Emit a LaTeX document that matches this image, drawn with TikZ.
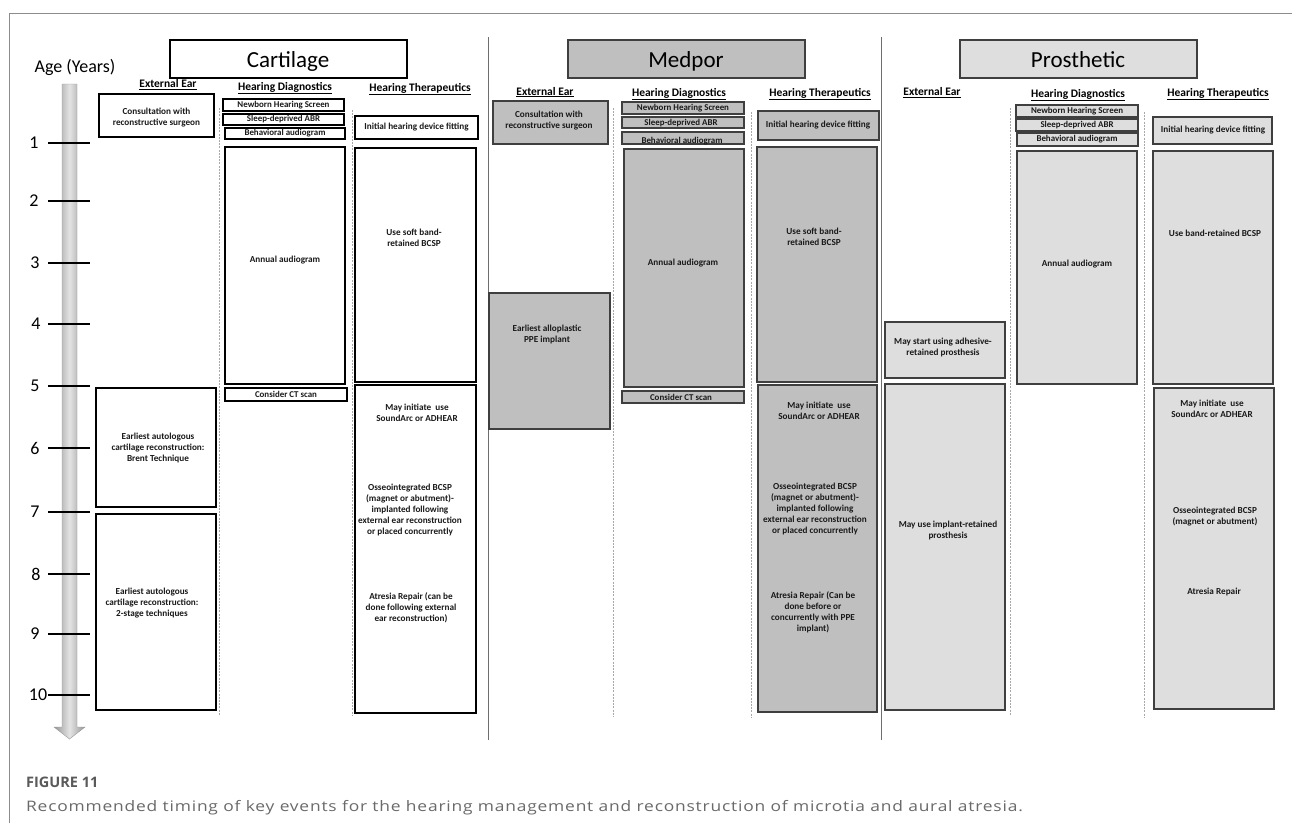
\documentclass[tikz,border=0pt]{standalone}
\usepackage{fontspec}
\setmainfont{Carlito}
\newfontfamily\capfont[FakeStretch=1.2,LetterSpace=5.5]{Open Sans}
\newfontfamily\capnofont{Open Sans}
\usetikzlibrary{fit}
\definecolor{medfill}{HTML}{BFBFBF}
\definecolor{prosfill}{HTML}{DEDEDE}
\definecolor{edgegray}{HTML}{3F3F3F}
\definecolor{framegray}{HTML}{8C8C8C}
\definecolor{sepgray}{HTML}{6E6E6E}
\definecolor{dashgray}{HTML}{A8A8A8}
\definecolor{capgray}{HTML}{5A5A5A}
\definecolor{capgrayl}{HTML}{6A6A6A}
\definecolor{shaftdark}{HTML}{959595}
\definecolor{shaftlight}{HTML}{E4E4E4}
\tikzset{
  cbox/.style={draw=black, fill=white, line width=1.2pt, inner sep=0pt, outer sep=0pt},
  mbox/.style={draw=edgegray, fill=medfill, line width=1.2pt, inner sep=0pt, outer sep=0pt},
  pbox/.style={draw=edgegray, fill=prosfill, line width=1.2pt, inner sep=0pt, outer sep=0pt},
  lbl/.style={font=\fontsize{9.2}{11}\selectfont\bfseries, align=center, inner sep=0pt, text=black!90},
  slbl/.style={font=\fontsize{8.9}{11}\selectfont\bfseries, align=center, inner sep=0pt, text=black!90},
  colhead/.style={font=\fontsize{11.5}{13}\selectfont\bfseries, inner sep=0pt, anchor=base},
  titletext/.style={font=\fontsize{23}{26}\selectfont, inner sep=0pt, anchor=base},
  agelbl/.style={font=\fontsize{18}{20}\selectfont, inner sep=0pt},
  panelsep/.style={draw=sepgray, line width=0.9pt},
  dsep/.style={draw=dashgray, line width=0.7pt, dash pattern=on 2pt off 1.2pt},
  ticktrace/.style={line width=2.4pt, draw=black},
}
\begin{document}
\begin{tikzpicture}[x=1pt,y=-1pt]
\useasboundingbox (0,0) rectangle (1292,823);
\fill[white] (0,0) rectangle (1292,823);
% frame
\draw[framegray, line width=1pt] (9,823) -- (9,13) -- (1292,13);
% panel separators
\draw[panelsep] (488,37) -- (488,740);
\draw[panelsep] (881,37) -- (881,740);
% dashed column separators
\draw[dsep] (219,108) -- (219,715);
\draw[dsep] (352,110) -- (352,715);
\draw[dsep] (613,108) -- (613,717);
\draw[dsep] (751,112) -- (751,718);
\draw[dsep] (1010,108) -- (1010,715);
\draw[dsep] (1144,112) -- (1144,718);

% age axis
\node[font=\fontsize{18}{20}\selectfont, inner sep=0pt] (agetitle) at (75,67) {Age (Years)};
\shade[left color=shaftdark, right color=shaftdark, middle color=shaftlight, draw=gray!80]
  (62,84) -- (77,84) -- (77,727) -- (85,727) -- (69.5,739) -- (54,727) -- (62,727) -- cycle;
\foreach \v/\yy/\xx in {1/143/34,2/201/34,3/263/35,4/324/36,5/386/35,6/448/35,7/512/35,8/574/36,9/634/35,10/695/38}{
  \draw[ticktrace] (48,\yy) -- (90,\yy);
  \node[agelbl] (age\v) at (\xx,\yy) {\v};
}

% ===== Cartilage =====
\node[cbox, fit={(170,40)(407,78)}] (cartT) {};
\node[titletext] (cartL) at (288,67) {Cartilage};
\node[colhead] (cEEh) at (168,87.5) {\underline{External Ear}};
\node[colhead] (cHDh) at (285,90) {\underline{Hearing Diagnostics}};
\node[colhead] (cHTh) at (420,91) {\underline{Hearing Therapeutics}};

\node[cbox, fit={(99,94)(214,137)}] (cConsB) {};
\node[lbl] (cConsL) at (156.5,118) {Consultation with\\reconstructive surgeon};
\node[cbox, fit={(96,388)(216,507)}] (cBrentB) {};
\node[lbl] (cBrentL) at (158,448) {Earliest autologous\\cartilage reconstruction:\\Brent Technique};
\node[cbox, fit={(96,514)(216,710)}] (cTwoB) {};
\node[lbl] (cTwoL) at (152,603) {Earliest autologous\\cartilage reconstruction:\\2-stage techniques};

\node[cbox, fit={(223,99)(344,111)}] (cNewB) {};
\node[slbl] (cNewL) at (283.5,105) {Newborn Hearing Screen};
\node[cbox, fit={(223,114)(344,125)}] (cSleepB) {};
\node[slbl] (cSleepL) at (283.5,119.5) {Sleep-deprived ABR};
\node[cbox, fit={(225,128)(345,139)}] (cBehB) {};
\node[slbl] (cBehL) at (285,133.5) {Behavioral audiogram};
\node[cbox, fit={(225,147)(345,384)}] (cAnnB) {};
\node[lbl] (cAnnL) at (285,260) {Annual audiogram};
\node[cbox, fit={(225,388)(347,401)}] (cCTB) {};
\node[slbl] (cCTL) at (286,394.5) {Consider CT scan};

\node[cbox, fit={(355,116)(478,139)}] (cInitB) {};
\node[lbl] (cInitL) at (416.5,127.5) {Initial hearing device fitting};
\node[cbox, fit={(355,148)(476,382)}] (cSoftB) {};
\node[lbl] (cSoftL) at (414,237.5) {Use soft band-\\retained BCSP};
\node[cbox, fit={(355,385)(476,713)}] (cBigB) {};
\node[lbl] (cSoundL) at (417,412.5) {May initiate\ \ use\\SoundArc or ADHEAR};
\node[lbl] (cOsseoL) at (410,510) {Osseointegrated BCSP\\(magnet or abutment)-\\implanted following\\external ear reconstruction\\or placed concurrently};
\node[lbl] (cAtrL) at (411,608) {Atresia Repair (can be\\done following external\\ear reconstruction)};

% ===== Medpor =====
\node[mbox, fit={(568,40)(805,78)}] (medT) {};
\node[titletext] (medL) at (686,67) {Medpor};
\node[colhead] (mEEh) at (545,95) {\underline{External Ear}};
\node[colhead] (mHDh) at (679,96) {\underline{Hearing Diagnostics}};
\node[colhead] (mHTh) at (820,96) {\underline{Hearing Therapeutics}};

\node[mbox, fit={(493,101)(608,144)}] (mConsB) {};
\node[lbl] (mConsL) at (549,121) {Consultation with\\reconstructive surgeon};
\node[mbox, fit={(489,293)(610,429)}] (mPPEB) {};
\node[lbl] (mPPEL) at (547,334.5) {Earliest alloplastic\\PPE implant};

\node[mbox, fit={(622,102)(744,114)}] (mNewB) {};
\node[slbl] (mNewL) at (683,108) {Newborn Hearing Screen};
\node[mbox, fit={(622,117)(744,128)}] (mSleepB) {};
\node[slbl] (mSleepL) at (681,123) {Sleep-deprived ABR};
\node[mbox, fit={(622,132)(744,144)}] (mBehB) {};
\node[slbl] (mBehL) at (682,141) {Behavioral audiogram};
\node[mbox, fit={(624,149)(744,387)}] (mAnnB) {};
\node[lbl] (mAnnL) at (683,263) {Annual audiogram};
\node[mbox, fit={(622,391)(744,403)}] (mCTB) {};
\node[slbl] (mCTL) at (681,397) {Consider CT scan};

\node[mbox, fit={(758,111)(879,140)}] (mInitB) {};
\node[lbl] (mInitL) at (818,125) {Initial hearing device fitting};
\node[mbox, fit={(757,147)(877,382)}] (mSoftB) {};
\node[lbl] (mSoftL) at (814,236.5) {Use soft band-\\retained BCSP};
\node[mbox, fit={(758,385)(877,712)}] (mBigB) {};
\node[lbl] (mSoundL) at (819,410.5) {May initiate\ \ use\\SoundArc or ADHEAR};
\node[lbl] (mOsseoL) at (815,509) {Osseointegrated BCSP\\(magnet or abutment)-\\implanted following\\external ear reconstruction\\or placed concurrently};
\node[lbl] (mAtrL) at (813,612.5) {Atresia Repair (Can be\\done before or\\concurrently with PPE\\implant)};

% ===== Prosthetic =====
\node[pbox, fit={(960,40)(1197,78)}] (proT) {};
\node[titletext] (proL) at (1078,67) {Prosthetic};
\node[colhead] (pEEh) at (932,95.5) {\underline{External Ear}};
\node[colhead] (pHDh) at (1078,97) {\underline{Hearing Diagnostics}};
\node[colhead] (pHTh) at (1218,96) {\underline{Hearing Therapeutics}};

\node[pbox, fit={(885,322)(1005,378)}] (pAdhB) {};
\node[lbl] (pAdhL) at (943,347.5) {May start using adhesive-\\retained prosthesis};
\node[pbox, fit={(885,384)(1005,710)}] (pImpB) {};
\node[lbl] (pImpL) at (948,530.5) {May use implant-retained\\prosthesis};

\node[pbox, fit={(1016,105)(1138,117)}] (pNewB) {};
\node[slbl] (pNewL) at (1077,111) {Newborn Hearing Screen};
\node[pbox, fit={(1016,119)(1138,131)}] (pSleepB) {};
\node[slbl] (pSleepL) at (1077,125) {Sleep-deprived ABR};
\node[pbox, fit={(1017,133)(1138,146)}] (pBehB) {};
\node[slbl] (pBehL) at (1077,139.5) {Behavioral audiogram};
\node[pbox, fit={(1017,151)(1137,384)}] (pAnnB) {};
\node[lbl] (pAnnL) at (1077,264) {Annual audiogram};

\node[pbox, fit={(1153,117)(1272,144)}] (pInitB) {};
\node[lbl] (pInitL) at (1213,130.5) {Initial hearing device fitting};
\node[pbox, fit={(1153,151)(1273,384)}] (pBandB) {};
\node[lbl] (pBandL) at (1215,233) {Use band-retained BCSP};
\node[pbox, fit={(1154,388)(1274,709)}] (pBigB) {};
\node[lbl] (pSoundL) at (1212,408.5) {May initiate\ \ use\\SoundArc or ADHEAR};
\node[lbl] (pOsseoL) at (1215,516.5) {Osseointegrated BCSP\\(magnet or abutment)};
\node[lbl] (pAtrL) at (1214,592) {Atresia Repair};

% caption
\node[font=\capnofont\fontsize{14.5}{16}\selectfont\bfseries, text=capgray, anchor=base west, inner sep=0pt] (figno) at (26,787) {FIGURE 11};
\node[font=\capfont\fontsize{14.5}{17}\selectfont, text=capgrayl, anchor=base west, inner sep=0pt] (caption) at (26,811) {Recommended timing of key events for the hearing management and reconstruction of microtia and aural atresia.};
\end{tikzpicture}
\end{document}
